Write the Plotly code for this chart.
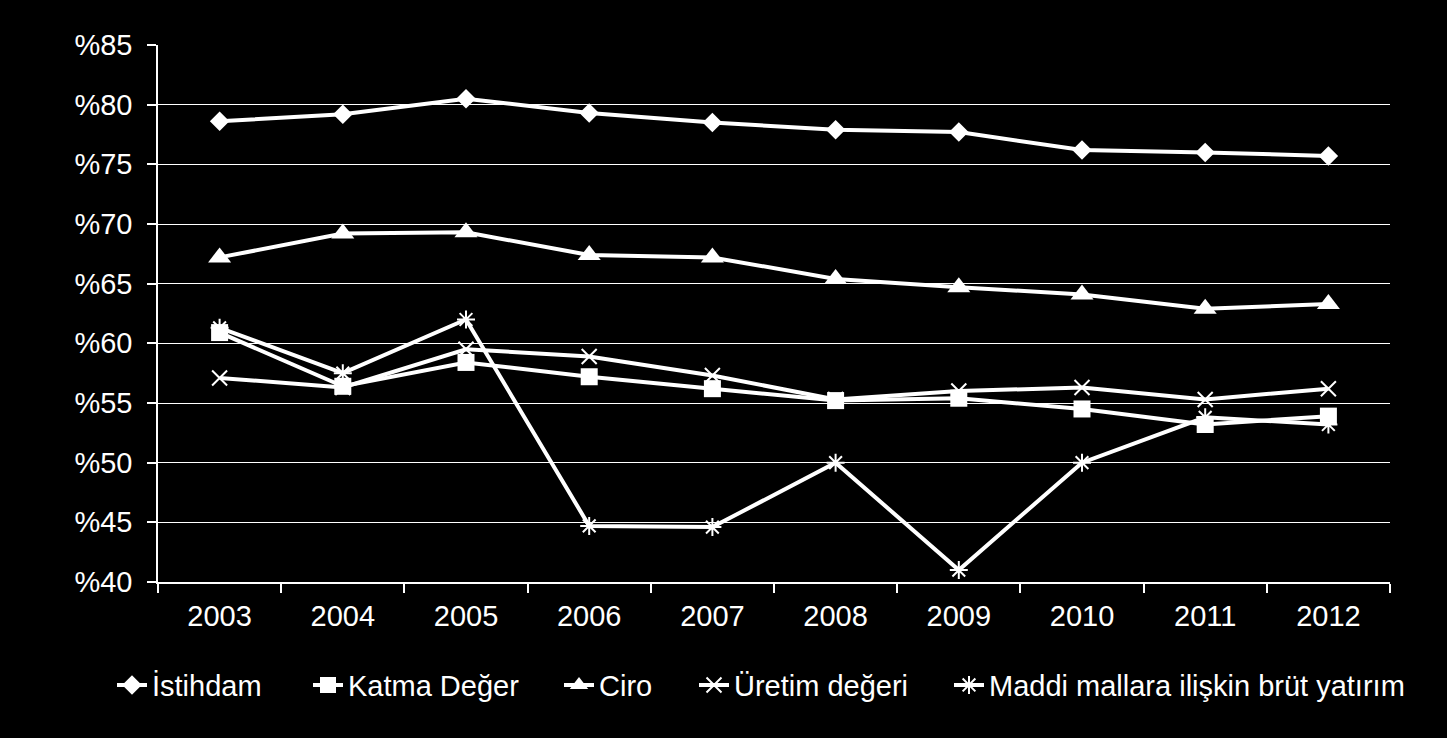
import plotly.graph_objects as go

years = ["2003", "2004", "2005", "2006", "2007", "2008", "2009", "2010", "2011", "2012"]
istihdam = [78.6, 79.2, 80.5, 79.3, 78.5, 77.9, 77.7, 76.2, 76.0, 75.7]
katma_deger = [60.9, 56.4, 58.4, 57.2, 56.2, 55.2, 55.4, 54.5, 53.2, 53.9]
ciro = [67.2, 69.2, 69.3, 67.4, 67.2, 65.4, 64.7, 64.1, 62.9, 63.3]
uretim = [57.1, 56.3, 59.5, 58.9, 57.3, 55.3, 56.0, 56.3, 55.3, 56.2]
maddi = [61.3, 57.5, 62.0, 44.7, 44.6, 50.0, 41.0, 50.0, 53.8, 53.2]
y_ticks = [40, 45, 50, 55, 60, 65, 70, 75, 80, 85]
y_tick_labels = ["%40", "%45", "%50", "%55", "%60", "%65", "%70", "%75", "%80", "%85"]

series = [
    ("İstihdam", istihdam, dict(symbol="diamond", size=15, color="white")),
    ("Katma Değer", katma_deger, dict(symbol="square", size=17, color="white")),
    ("Ciro", ciro, dict(symbol="triangle-up", size=20, color="white")),
    ("Üretim değeri", uretim, dict(symbol="x-thin-open", size=15, color="white", line=dict(color="white", width=2))),
    ("Maddi mallara ilişkin brüt yatırım", maddi, dict(symbol="asterisk-open", size=15, color="white", line=dict(color="white", width=2))),
]

# legend text start positions (px) in reference
legend_text_px = [153, 349, 600, 735, 990]
plot_left, plot_w = 158, 1232

font = "Liberation Sans, Arial, sans-serif"
fig = go.Figure()
legend_layout = {}
for i, (name, vals, mk) in enumerate(series):
    lname = "legend" if i == 0 else f"legend{i+1}"
    fig.add_trace(go.Scatter(x=years, y=vals, name=name, mode="lines+markers",
                             line=dict(color="white", width=4), marker=mk, legend=lname))
    legend_layout[lname] = dict(
        x=(legend_text_px[i] - 41 - plot_left) / plot_w, xanchor="left",
        y=-0.192, yanchor="middle", orientation="h",
        font=dict(family=font, size=29, color="white"), itemwidth=30,
        bgcolor="rgba(0,0,0,0)", borderwidth=0)

fig.update_layout(
    width=1447, height=738,
    paper_bgcolor="black", plot_bgcolor="black",
    margin=dict(l=158, r=57, t=45, b=156),
    font=dict(family=font, size=29, color="white"),
    showlegend=True,
    xaxis=dict(type="category", range=[-0.5, 9.5], showgrid=False, showline=True,
               linecolor="white", linewidth=1.5,
               ticks="outside", tickson="boundaries", ticklen=9, tickcolor="white", tickwidth=1.5,
               tickfont=dict(size=29, color="white"), ticklabelstandoff=7),
    yaxis=dict(range=[40, 85], tickvals=y_ticks, ticktext=y_tick_labels,
               showgrid=True, gridcolor="white", gridwidth=1.3,
               showline=True, linecolor="white", linewidth=1.5,
               ticks="outside", ticklen=9, tickcolor="white", tickwidth=1.5,
               tickfont=dict(size=29, color="white"), ticklabelstandoff=9, zeroline=False),
    **legend_layout,
)
fig.write_html("out.html", config={"displayModeBar": False},
               post_script="document.body.style.margin='0';document.body.style.background='black';")
